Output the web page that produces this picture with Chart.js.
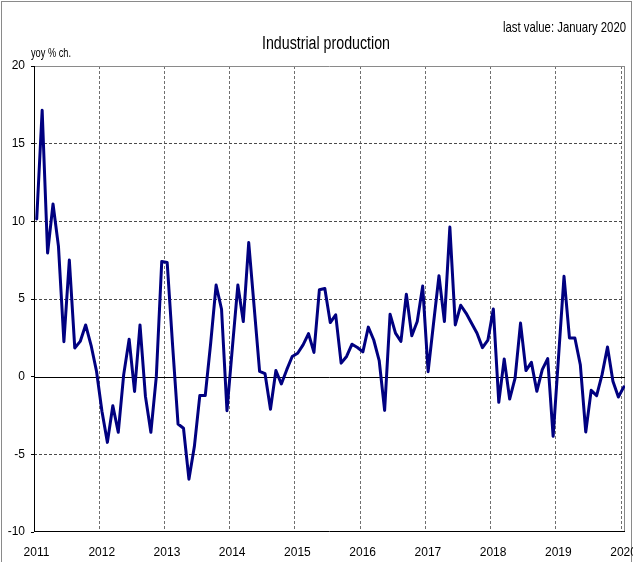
<!DOCTYPE html>
<html><head><meta charset="utf-8">
<script src="https://cdn.jsdelivr.net/npm/chart.js@4.4.1/dist/chart.umd.min.js"></script>
<style>
html,body{margin:0;padding:0;background:#fff;}
#wrap{position:relative;width:633px;height:562px;overflow:hidden;background:#fff;}
#frame{position:absolute;left:1px;top:1px;width:629px;height:620px;border:1px solid #8a8a8a;}
canvas{position:absolute;left:0;top:0;}
.t{position:absolute;white-space:nowrap;color:#000;transform-origin:0 50%;}
</style></head><body>
<div id="wrap">
<div id="frame"></div>
<canvas id="c" width="633" height="562"></canvas>
<div class="t" id="title">Industrial production</div>
<div class="t" id="last">last value: January 2020</div>
<div class="t" id="unit">yoy % ch.</div>
</div>
<script>
// ---- data ----
const startYear = 2011;
const yearTicks = [2011, 2012, 2013, 2014, 2015, 2016, 2017, 2018, 2019, 2020];
const yTicks = [-10, -5, 0, 5, 10, 15, 20];
const ip2011 = [10.15, 17.15, 7.96, 11.12, 8.39, 2.25, 7.51, 1.85, 2.27, 3.33, 2.02, 0.35];
const ip2012 = [-2.23, -4.23, -1.87, -3.58, 0.13, 2.41, -0.95, 3.33, -1.27, -3.58, 0.0, 7.42];
const ip2013 = [7.35, 2.0, -3.05, -3.32, -6.6, -4.5, -1.22, -1.22, 2.15, 5.9, 4.34, -2.19];
const ip2014 = [1.9, 5.9, 3.55, 8.63, 4.5, 0.34, 0.19, -2.1, 0.4, -0.47, 0.45, 1.3];
const ip2015 = [1.51, 2.05, 2.77, 1.56, 5.6, 5.68, 3.48, 3.98, 0.87, 1.3, 2.09, 1.88];
const ip2016 = [1.6, 3.19, 2.36, 1.04, -2.17, 4.02, 2.8, 2.27, 5.31, 2.63, 3.55, 5.83];
const ip2017 = [0.32, 3.44, 6.5, 3.55, 9.63, 3.33, 4.6, 4.08, 3.44, 2.8, 1.87, 2.36];
const ip2018 = [4.35, -1.65, 1.14, -1.44, -0.09, 3.45, 0.39, 0.92, -0.94, 0.45, 1.16, -3.84];
const ip2019 = [1.3, 6.46, 2.49, 2.49, 0.77, -3.56, -0.88, -1.22, 0.13, 1.91, -0.3, -1.31];
const ip2020 = [-0.66];

const allYears = [ip2011, ip2012, ip2013, ip2014, ip2015, ip2016, ip2017, ip2018, ip2019, ip2020];
const points = [];
allYears.forEach((arr, yi) => arr.forEach((v, m) => points.push({x: startYear + yi + (m + 0.5) / 12, y: v})));

// ---- text ----
const famCss = '"Liberation Sans", Arial, sans-serif';
const mc = document.createElement('canvas').getContext('2d');
function place(id, size, targetW, baseline, opts) {
  const el = document.getElementById(id);
  const text = el.textContent;
  mc.font = size + 'px ' + famCss;
  const m = mc.measureText(text);
  const sx = targetW / m.width;
  const fa = m.fontBoundingBoxAscent, fd = m.fontBoundingBoxDescent;
  el.style.fontFamily = famCss; el.style.fontSize = size + 'px'; el.style.lineHeight = size + 'px';
  el.style.top = (baseline - ((size - (fa + fd)) / 2 + fa)) + 'px';
  el.style.transform = 'scaleX(' + sx + ')';
  let left = opts.left;
  if (opts.center !== undefined) left = opts.center - targetW / 2;
  if (opts.right !== undefined) left = opts.right - targetW;
  el.style.left = left + 'px';
}
place('title', 18, 128, 48.5, {center: 326});
place('last', 14.5, 123, 32, {right: 626});
place('unit', 12, 40, 56.5, {left: 31});

// ---- frame plugin: axes, zero line, plot border ----
const framePlugin = {
  id: 'frameLines',
  beforeDatasetsDraw(chart) {
    const {ctx, chartArea: a, scales: {y}} = chart;
    ctx.save();
    ctx.lineWidth = 1;
    ctx.strokeStyle = '#8a8a8a';
    ctx.beginPath();
    ctx.moveTo(a.left, a.top + 0.5); ctx.lineTo(a.right, a.top + 0.5);
    ctx.moveTo(a.right - 0.5, a.top); ctx.lineTo(a.right - 0.5, a.bottom);
    ctx.stroke();
    ctx.strokeStyle = '#000';
    const z = Math.round(y.getPixelForValue(0)) + 0.5;
    ctx.beginPath();
    ctx.moveTo(a.left, z); ctx.lineTo(a.right, z);
    ctx.moveTo(a.left, a.bottom - 0.5); ctx.lineTo(a.right, a.bottom - 0.5);
    ctx.moveTo(a.left + 0.5, a.top); ctx.lineTo(a.left + 0.5, a.bottom);
    ctx.stroke();
    ctx.restore();
  }
};

new Chart(document.getElementById('c'), {
  type: 'line',
  data: {
    datasets: [{
      data: points,
      borderColor: '#000080',
      borderWidth: 3,
      pointRadius: 0,
      tension: 0,
      fill: false,
      borderJoinStyle: 'round',
      borderCapStyle: 'round'
    }]
  },
  options: {
    responsive: false,
    animation: false,
    parsing: false,
    layout: {padding: {top: 66, right: 8, left: 0, bottom: 0}},
    plugins: {legend: {display: false}, tooltip: {enabled: false}, title: {display: false}},
    scales: {
      x: {
        type: 'linear',
        min: startYear,
        max: 2020.06,
        afterBuildTicks(s) { s.ticks = yearTicks.map(v => ({value: v})); },
        afterFit(s) { s.height = 30; s.paddingLeft = 0; s.paddingRight = 0; },
        ticks: {
          autoSkip: false, maxRotation: 0, minRotation: 0,
          padding: 13, labelOffset: 2.5, color: '#000',
          font: {family: famCss, size: 12},
          callback: v => String(v)
        },
        grid: {
          drawTicks: false,
          color: c => (c.tick && c.tick.value === startYear) ? 'rgba(0,0,0,0)' : '#6e6e6e',
          lineWidth: 1
        },
        border: {display: false, dash: [3, 2]}
      },
      y: {
        type: 'linear',
        min: -10, max: 20,
        afterBuildTicks(s) { s.ticks = yTicks.map(v => ({value: v})); },
        afterFit(s) { s.width = 34; s.paddingTop = 0; s.paddingBottom = 0; },
        ticks: {
          padding: 6, color: '#000',
          font: {family: famCss, size: 12},
          callback: v => String(v)
        },
        grid: {
          drawTicks: true, tickLength: 3, tickColor: '#000', tickWidth: 1, tickBorderDash: [],
          color: c => (c.tick && (c.tick.value === 0 || c.tick.value === 20 || c.tick.value === -10)) ? 'rgba(0,0,0,0)' : '#4a4a4a',
          lineWidth: 1
        },
        border: {display: false, dash: [3, 2]}
      }
    }
  },
  plugins: [framePlugin]
});
</script>
</body></html>
